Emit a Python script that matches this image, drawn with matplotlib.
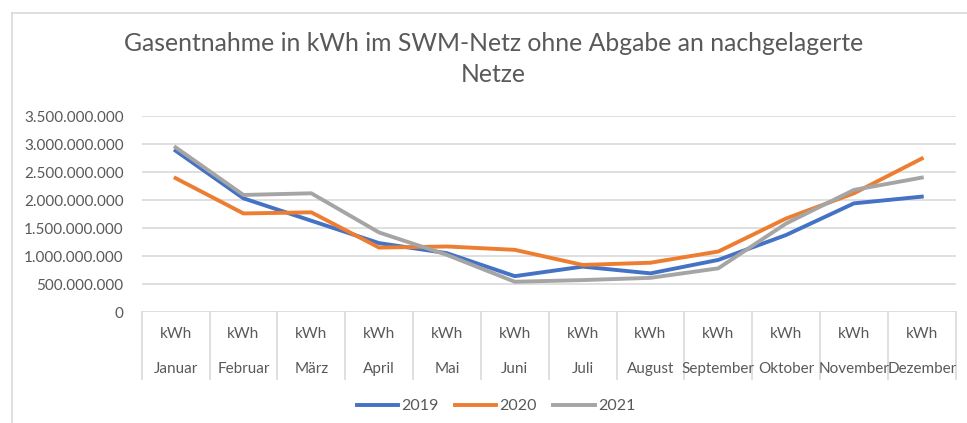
import matplotlib.pyplot as plt
from matplotlib.lines import Line2D
from matplotlib.patches import Rectangle
from matplotlib.ticker import FuncFormatter

# --- data (kWh per month) ---
months = ["Januar", "Februar", "März", "April", "Mai", "Juni", "Juli",
          "August", "September", "Oktober", "November", "Dezember"]
unit = "kWh"
y2019 = [2.88e9, 2.03e9, 1.63e9, 1.23e9, 1.05e9, 0.64e9,
         0.81e9, 0.69e9, 0.93e9, 1.375e9, 1.94e9, 2.06e9]
y2020 = [2.39e9, 1.76e9, 1.78e9, 1.15e9, 1.17e9, 1.11e9,
         0.84e9, 0.88e9, 1.08e9, 1.67e9, 2.12e9, 2.74e9]
y2021 = [2.94e9, 2.09e9, 2.12e9, 1.42e9, 1.02e9, 0.54e9,
         0.57e9, 0.61e9, 0.78e9, 1.58e9, 2.18e9, 2.40e9]
yticks = [0, 5e8, 1e9, 1.5e9, 2e9, 2.5e9, 3e9, 3.5e9]
title = "Gasentnahme in kWh im SWM-Netz ohne Abgabe an nachgelagerte\nNetze"

plt.rcParams['font.family'] = ['Lato', 'DejaVu Sans']
txt = '#595959'
grid = '#d9d9d9'

fig = plt.figure(figsize=(9.67, 4.23), dpi=100)
ax = fig.add_axes([141.7 / 967, 1 - 312 / 423, (955.7 - 141.7) / 967, 196 / 423])

x = list(range(len(months)))
ax.plot(x, y2019, color='#4472C4', lw=2.8, label='2019', solid_joinstyle='round')
ax.plot(x, y2020, color='#ED7D31', lw=2.8, label='2020', solid_joinstyle='round')
ax.plot(x, y2021, color='#A5A5A5', lw=2.8, label='2021', solid_joinstyle='round')

ax.set_xlim(-0.5, len(months) - 0.5)
ax.set_ylim(0, 3.5e9)
ax.set_yticks(yticks)
ax.yaxis.set_major_formatter(FuncFormatter(lambda v, p: f"{int(v):,}".replace(",", ".")))
ax.tick_params(axis='y', length=0, labelsize=11, labelcolor=txt, pad=13)
ax.set_xticks([])
ax.grid(axis='y', color=grid, lw=1.2)
ax.set_axisbelow(True)
for s in ax.spines.values():
    s.set_visible(False)

# two-level category axis: kWh above month, cells separated by vertical lines
sep_h = 67 / 196
for i in range(len(months) + 1):
    ax.add_line(Line2D([i - 0.5, i - 0.5], [0, -sep_h], color=grid, lw=1.2,
                       transform=ax.get_xaxis_transform(), clip_on=False))
for i, m in enumerate(months):
    cell = Rectangle((i - 0.5, -sep_h), 1, sep_h, transform=ax.get_xaxis_transform())
    ax.text(i, -22 / 196, unit, ha='center', va='center', fontsize=11, color=txt,
            transform=ax.get_xaxis_transform(), clip_on=False)
    t = ax.text(i, -57 / 196, m, ha='center', va='center', fontsize=11, color=txt,
                transform=ax.get_xaxis_transform())
    t.set_clip_path(cell)

fig.text(0.51, 1 - 59 / 423, title, ha='center', va='center', fontsize=17.8,
         color=txt, linespacing=1.45)

fig.legend(loc='center', bbox_to_anchor=(0.513, 1 - 406 / 423), ncol=3, frameon=False,
           fontsize=11.5, labelcolor=txt, handlelength=2.6, handletextpad=0.2,
           columnspacing=1.0)

# chart area border
fig.add_artist(Line2D([12 / 967, 12 / 967], [0, 1 - 13 / 423], color=grid, lw=1.2))
fig.add_artist(Line2D([12 / 967, 1], [1 - 13 / 423, 1 - 13 / 423], color=grid, lw=1.2))

fig.savefig('out.png', dpi=100, facecolor='white')
